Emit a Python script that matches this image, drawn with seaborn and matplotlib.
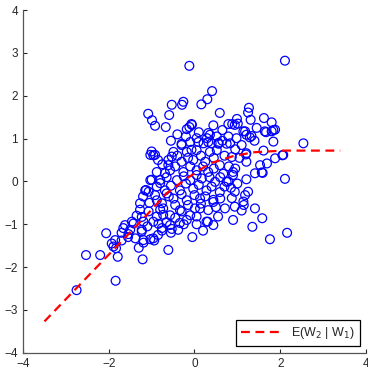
import numpy as np
import pandas as pd
import matplotlib
matplotlib.use('Agg')
import matplotlib.pyplot as plt
import seaborn as sns

# scatter samples (W1, W2)
w1 = [-0.12, 2.11, 0.41, 0.30, -0.26, -0.29, -0.53, 0.16, -1.08, -0.59,
      0.59, 1.27, 1.25, 1.31, 1.62, 1.80, -0.99, -0.92, -0.67, -0.06,
      0.44, 0.88, 0.99, 1.01, -0.18, -0.12, -0.20, 0.05, 0.29, 0.36,
      0.52, 0.56, 0.40, 0.21, 0.79, 0.79, 0.83, 0.98, 1.18, 1.21,
      1.29, 1.33, 1.64, 1.80, 1.88, 1.84, 2.54, 1.61, 1.21, 1.21,
      2.07, 1.88, 1.69, 1.53, 1.57, 1.41, 2.11, 1.21, 1.25, 1.18,
      1.14, 1.41, 0.94, 1.10, 0.87, 0.94, 0.79, 1.58, 1.35, 1.76,
      2.16, 0.55, 0.31, 0.13, 0.05, 0.44, -0.18, -0.30, -0.38, -0.57,
      -0.76, -0.88, -0.96, -1.07, -1.19, -1.23, -1.27, -1.27, -1.46, -1.42,
      -1.62, -1.38, -1.19, -0.96, -0.61, -1.50, -1.66, -1.85, -1.93, -2.06,
      -1.03, -1.00, -0.92, -1.13, -1.07, -1.00, -0.88, -0.80, -0.92, -0.69,
      -0.61, -0.53, -0.30, -0.07, -0.76, -0.65, -0.80, -0.73, -2.53, -2.20,
      -2.75, -1.84, -1.79, -1.21, -1.89, -1.83, -1.70, -0.94, -1.19, 0.94,
      1.14, 1.67, 1.84, -0.07, 0.32, -0.30, -0.10, 0.09, 0.32, 0.56,
      0.75, -0.96, -0.49, -0.18, 0.05, 0.36, 0.52, -0.61, -0.30, -0.03,
      0.25, 0.59, -0.88, -0.57, -0.26, 0.05, 0.32, 0.67, -0.80, -0.41,
      -0.10, 0.17, 0.48, 0.75, -0.69, -0.34, -0.03, 0.28, 0.59, -0.88,
      -0.49, -0.18, 0.13, 0.44, -0.73, -0.34, 0.01, 0.32, 0.71, -0.57,
      -0.10, -0.40, -0.15, 0.15, 0.45, 0.70, -0.45, -0.10, 0.20, 0.45,
      0.80, -0.65, -0.25, 0.05, 0.35, 0.60, 0.90, -0.55, -0.20, 0.10,
      0.40, 0.70, -0.60, -0.30, 0.00, 0.25, 0.60, -0.45, -0.15, 0.15,
      0.50, -0.45, -0.25, 0.05, -0.65, -0.85, -0.55, -0.75, -0.85, -1.20,
      -1.35, -1.10, -1.05, 0.65, 0.95, 1.05, 0.95, 1.00, 0.90, 0.65,
      -0.40, -0.55, 0.10, 1.10, -1.55, -1.30, -1.70, 0.20, -0.05, 1.45,
      1.40, 0.85, 2.05, 1.20, 0.90, 0.87, 1.59, -1.03, -1.15, -1.23,
      -1.54, -1.23, -1.03, -0.84, -0.76, -0.53, -0.34, 0.28, 0.44, 1.15]
w2 = [2.70, 2.82, 2.11, 1.92, 1.86, 1.79, 1.79, 1.80, 1.58, 1.55,
      1.60, 1.72, 1.61, 1.44, 1.48, 1.38, 1.43, 1.30, 1.27, 1.32,
      1.31, 1.34, 1.46, 1.35, 1.22, 1.27, 1.05, 1.01, 1.01, 1.09,
      1.05, 0.88, 0.89, 0.89, 1.05, 1.34, 0.89, 1.01, 1.17, 1.09,
      1.03, 1.06, 1.17, 1.17, 1.21, 0.93, 0.89, 0.72, 0.66, 0.46,
      0.62, 0.54, 0.42, 0.38, 0.21, 0.19, 0.06, 0.05, -0.24, -0.32,
      -0.47, -0.63, -0.59, -0.68, -0.39, -0.24, 0.00, -0.86, -1.06, -1.35,
      -1.20, -0.82, -0.94, -0.63, -0.82, -0.43, -0.90, -0.70, -1.13, -1.02,
      -1.09, -0.82, -0.94, -0.70, -0.94, -1.13, -0.51, -0.66, -0.94, -0.98,
      -1.02, -1.33, -1.37, -1.33, -1.60, -1.13, -1.09, -1.37, -1.45, -1.21,
      0.62, 0.70, 0.62, -0.20, -0.24, 0.04, -0.12, -0.04, -0.32, 0.19,
      0.38, 0.58, 0.85, 0.74, -0.51, -0.28, -0.66, -0.78, -1.72, -1.72,
      -2.54, -2.32, -1.76, -1.82, -1.52, -1.56, -1.38, -1.38, -1.43, 1.32,
      1.17, 1.15, 1.20, 1.34, 1.13, 0.88, 0.92, 0.92, 0.92, 0.90,
      0.88, 0.61, 0.69, 0.69, 0.73, 0.69, 0.73, 0.50, 0.46, 0.50,
      0.46, 0.38, 0.22, 0.26, 0.22, 0.26, 0.22, 0.18, 0.03, 0.03,
      0.03, 0.07, -0.01, -0.01, -0.21, -0.21, -0.17, -0.21, -0.25, -0.44,
      -0.40, -0.44, -0.40, -0.48, -0.63, -0.67, -0.63, -0.67, -0.63, -0.79,
      -0.79, 0.60, 0.55, 0.60, 0.55, 0.60, 0.35, 0.35, 0.35, 0.30,
      0.35, 0.10, 0.12, 0.15, 0.10, 0.10, 0.15, -0.10, -0.05, -0.08,
      -0.12, -0.12, -0.35, -0.30, -0.32, -0.35, -0.40, -0.55, -0.55, -0.52,
      -0.60, -0.85, -1.00, -1.00, -0.95, -1.25, -1.20, 0.40, 0.50, -0.35,
      -0.80, -1.05, -0.50, 0.95, 0.75, 0.55, 0.30, -0.05, -0.90, 1.20,
      1.10, 0.95, 1.15, 0.85, -1.30, -1.55, -1.20, -1.15, -1.30, 1.25,
      0.95, -0.15, 0.61, 0.63, 0.22, 0.57, 0.20, 0.03, -0.21, -0.83,
      -1.23, -1.17, -1.35, -0.99, -1.15, -1.11, -0.97, -0.94, -1.02, -0.55]

# conditional expectation curve
line_x = [-3.5, -3.0, -2.5, -2.0, -1.5, -1.11, -0.65, -0.18, 0.36, 0.9, 1.37, 2.07, 3.4]
line_y = [-3.27, -2.75, -2.23, -1.71, -1.19, -0.78, -0.28, 0.07, 0.42, 0.59, 0.68, 0.72, 0.72]

pts = pd.DataFrame({'W1': w1, 'W2': w2})
curve = pd.DataFrame({'x': line_x, 'y': line_y})

sns.set_style('ticks')
plt.rcParams['font.family'] = ['Liberation Sans', 'DejaVu Sans']

fig = plt.figure(figsize=(3.68, 3.91), dpi=100)
ax = fig.add_axes([0.0625, 0.098, 0.932, 0.876])

sns.scatterplot(data=pts, x='W1', y='W2', ax=ax, marker='o', s=40,
                facecolors='none', edgecolor='#0000ff', linewidth=0.9)
sns.lineplot(data=curve, x='x', y='y', ax=ax, color='red', linewidth=1.6,
             dashes=(4, 2.5), label='E(W$_2$ | W$_1$)')

ax.set_xlim(-4, 4)
ax.set_ylim(-4, 4)
ax.set_xticks([-4, -2, 0, 2, 4])
ax.set_yticks([-4, -3, -2, -1, 0, 1, 2, 3, 4])
ax.set_xlabel('')
ax.set_ylabel('')
ax.tick_params(direction='in', length=3, width=0.8, labelsize=8.5,
               colors='#262626')
sns.despine(ax=ax)
for s in ['left', 'bottom']:
    ax.spines[s].set_color('#555555')
    ax.spines[s].set_linewidth(0.9)

leg = ax.legend(loc='lower right', fontsize=9, fancybox=False,
                edgecolor='black', framealpha=1, borderaxespad=0.5,
                handlelength=3.2)
leg.get_frame().set_linewidth(0.9)

fig.savefig('out.png', dpi=100)
